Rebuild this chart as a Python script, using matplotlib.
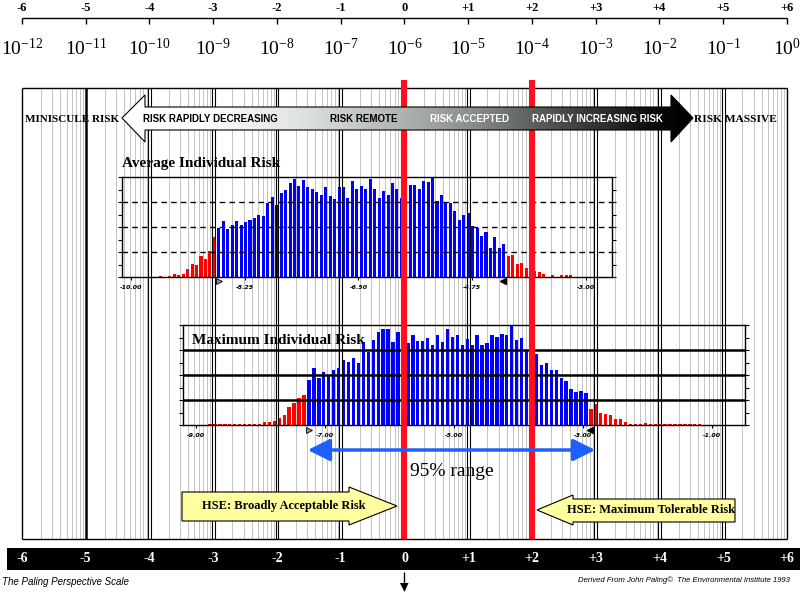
import numpy as np
import matplotlib
matplotlib.use("Agg")
import matplotlib.pyplot as plt
from matplotlib.patches import Polygon, Rectangle, FancyArrowPatch
from matplotlib.colors import LinearSegmentedColormap

W, H = 803, 595
SERIF = "Liberation Serif"
SANS = "Liberation Sans"

# Paling perspective scale: one step = a factor of ten
scale_ticks = [-6, -5, -4, -3, -2, -1, 0, 1, 2, 3, 4, 5, 6]
scale_labels = ["-6", "-5", "-4", "-3", "-2", "-1", "0", "+1", "+2", "+3", "+4", "+5", "+6"]
risk_powers = [-12, -11, -10, -9, -8, -7, -6, -5, -4, -3, -2, -1, 0]
double_lines = [-4, -3, -2, -1, 1, 3, 4, 5]
thick_lines = [-5]
edge_lines = [-6, 6]
hse_lines = [0, 2]

# average individual risk histogram (log10 risk bins)
avg_start, avg_step = -9.539, 0.0685
avg_left = [0.04, 0, 0.04, 0.12, 0.08, 0.12, 0.32, 0.52, 0.48, 0.83, 0.72, 1.03, 1.60]
avg_body = [1.96, 2.24, 1.92, 2.07, 2.24, 2.08, 2.20, 2.27, 2.36, 2.48,
            2.45, 2.96, 3.20, 2.88, 3.36, 3.48, 3.76, 3.92, 3.64, 3.88,
            3.60, 3.52, 3.40, 3.28, 3.60, 3.24, 3.12, 3.60, 3.60, 3.16,
            3.84, 3.52, 3.64, 3.52, 3.92, 3.52, 3.16, 3.44, 3.28, 3.76,
            3.52, 3.16, 3.48, 3.68, 3.68, 3.52, 3.84, 3.80, 3.99, 3.04,
            3.28, 2.96, 2.96, 2.64, 2.28, 2.48, 2.56, 2.04, 1.96, 1.64,
            1.80, 1.16, 1.60, 1.16, 1.32]
avg_right = [0.84, 0.88, 0.52, 0.56, 0.36, 0.24, 0.24, 0.20, 0.12, 0, 0.08, 0, 0.08, 0.08, 0.08]
avg_ticks = [-10.0, -8.25, -6.5, -4.75, -3.0]

# maximum individual risk histogram
max_start, max_step = -8.783, 0.0767
max_left = [0.04, 0.04, 0.04, 0.04, 0.04, 0.04, 0.04, 0.04, 0.04, 0.04,
            0.04, 0.11, 0.12, 0.15, 0.27, 0.39, 0.71, 0.87, 1.07, 1.20]
max_body = [1.81, 2.27, 1.87, 2.11, 1.96, 2.19, 2.27, 2.59, 2.51, 2.67,
            2.47, 3.31, 2.91, 3.39, 3.71, 3.84, 3.84, 3.31, 3.71, 3.23,
            3.27, 3.59, 3.35, 3.35, 3.47, 3.19, 3.59, 3.31, 3.83, 3.51,
            3.59, 3.19, 3.43, 3.19, 3.59, 3.19, 3.27, 3.59, 3.51, 3.63,
            3.59, 3.97, 3.39, 3.47, 2.97, 2.91, 2.83, 2.39, 2.47, 2.19,
            2.19, 1.87, 1.75, 1.43, 1.31, 1.35, 1.27]
max_right = [0.63, 0.83, 0.47, 0.43, 0.39, 0.23, 0.23, 0.11, 0.04, 0.04,
             0.04, 0.07, 0.05, 0.04, 0.04, 0.04, 0.04, 0.04, 0.04, 0.04,
             0.04, 0.04, 0.04]
max_ticks = [-9.0, -7.0, -5.0, -3.0, -1.0]

# pixel position of scale 0 and width of one step
X0, U = 404.5, 63.75


def sx(px):
    return (px - X0) / U


fig = plt.figure(figsize=(W / 100, H / 100), dpi=100)
bg = fig.add_axes([0, 0, 1, 1], zorder=0)
ov = fig.add_axes([0, 0, 1, 1], zorder=3)
ov.patch.set_alpha(0)
for a in (bg, ov):
    a.set_xlim(sx(0), sx(W))
    a.set_ylim(H, 0)
    a.axis("off")

# minor log lines inside each decade
for t in scale_ticks[:-1]:
    for k in range(2, 10):
        bg.vlines(t + np.log10(k), 88, 539, color="#c4c4c4", lw=0.7)

# major lines
dx = 1.3 / U
for t in double_lines:
    ov.vlines([t - dx, t + dx], 88, 539, color="black", lw=0.8, zorder=2)
for t in thick_lines:
    ov.vlines(t, 88, 539, color="black", lw=1.8, zorder=2)
for t in edge_lines:
    ov.vlines(t, 88, 539, color="black", lw=1.0, zorder=2)
ov.hlines([88, 539], -6, 6, color="black", lw=1.0, zorder=2)
ov.vlines(hse_lines, 80, 539, color="#ff1020", lw=4.4, zorder=3)

# top scale
bg.hlines(18, -6, 6, color="black", lw=1.0)
bg.vlines(scale_ticks, 18, 24, color="black", lw=1.0)
for t, lab, p in zip(scale_ticks, scale_labels, risk_powers):
    bg.text(t, 8, lab, ha="center", va="center", fontsize=9,
            fontweight="bold", family=SERIF)
    bg.text(t, 48, "$\\mathregular{10^{%d}}$" % p, ha="center", va="center",
            fontsize=14, family=SERIF)

# big gradient arrow
arrow_pts = [(122, 118), (145, 95), (145, 107), (671, 107), (671, 95),
             (693, 118), (671, 142), (671, 130), (145, 130), (145, 142)]
arrow_pts = [(sx(x), y) for x, y in arrow_pts]
grad = LinearSegmentedColormap.from_list("risk", [
    (0.0, "#ffffff"), (0.14, "#ffffff"), (0.31, "#e0e4e0"), (0.49, "#b0b4b0"),
    (0.61, "#8c908c"), (0.71, "#606460"), (0.84, "#303030"), (0.94, "#080808"),
    (1.0, "#000000")])
outline = Polygon(arrow_pts, closed=True, facecolor="none", edgecolor="black",
                  lw=0.8, zorder=6)
ov.add_patch(outline)
im = ov.imshow(np.linspace(0, 1, 256)[None, :], cmap=grad, aspect="auto",
               extent=(sx(122), sx(693), 142, 95), zorder=5)
im.set_clip_path(outline)

arrow_text = [("RISK RAPIDLY DECREASING", 143, "black"), ("RISK REMOTE", 330, "black"),
              ("RISK ACCEPTED", 430, "white"), ("RAPIDLY INCREASING RISK", 532, "white")]
for s, x, c in arrow_text:
    ov.text(sx(x), 119, s, ha="left", va="center", fontsize=7, fontweight="bold",
            family=SANS, color=c, zorder=7)
ov.text(sx(25), 119, "MINISCULE RISK", ha="left", va="center", fontsize=8,
        fontweight="bold", family=SERIF, zorder=7)
ov.text(sx(694), 119, "RISK MASSIVE", ha="left", va="center", fontsize=8.2,
        fontweight="bold", family=SERIF, zorder=7)


def panel(x1, y1, x2, y2, xlim):
    a = fig.add_axes([x1 / W, 1 - y2 / H, (x2 - x1) / W, (y2 - y1) / H], zorder=1)
    a.patch.set_alpha(0)
    a.set_xlim(xlim)
    a.set_ylim(0, 4)
    a.set_yticks(np.arange(0, 4.01, 0.5))
    a.tick_params(axis="y", which="both", direction="out", length=3, width=0.8,
                  left=True, right=True, labelleft=False)
    a.tick_params(axis="x", direction="out", length=2, width=0.8, pad=4)
    for sp in a.spines.values():
        sp.set_linewidth(1.0)
    return a


def draw_bars(a, start, step, left, body, right):
    heights = left + body + right
    xs = start + step * np.arange(len(heights))
    colors = ["red"] * len(left) + ["blue"] * len(body) + ["red"] * len(right)
    a.bar(xs, heights, width=step * 0.68, color=colors, linewidth=0, zorder=2)
    return xs[len(left)], xs[len(left) + len(body) - 1]


# average individual risk
pa = panel(122, 177, 612, 277, (-10.138, -2.60))
lo, hi = draw_bars(pa, avg_start, avg_step, avg_left, avg_body, avg_right)
pa.hlines([1, 2, 3], *pa.get_xlim(), color="black", lw=1.0, linestyles=(0, (4, 3)), zorder=3)
pa.set_xticks(avg_ticks)
pa.set_xticklabels(["%.2f" % v for v in avg_ticks], fontsize=4.5, style="italic",
                   fontweight="bold")
pa.plot([lo], [-0.17], marker=">", ms=5, mfc="#909090", mec="black", mew=0.6, clip_on=False)
pa.plot([hi - avg_step * 0.2], [-0.17], marker="<", ms=5, color="black", clip_on=False)
ov.text(sx(122), 163, "Average Individual Risk", ha="left", va="center", fontsize=11,
        fontweight="bold", family=SERIF, zorder=7)

# maximum individual risk
pm = panel(183, 325, 745, 425, (-9.2016, -0.488))
lo, hi = draw_bars(pm, max_start, max_step, max_left, max_body, max_right)
pm.hlines([1, 2, 3], *pm.get_xlim(), color="black", lw=1.8, zorder=3)
pm.set_xticks(max_ticks)
pm.set_xticklabels(["%.2f" % v for v in max_ticks], fontsize=4.5, style="italic",
                   fontweight="bold")
pm.plot([lo], [-0.2], marker=">", ms=5, mfc="#909090", mec="black", mew=0.6, clip_on=False)
pm.plot([hi + max_step * 0.9], [-0.2], marker="<", ms=5, color="black", clip_on=False)
ov.text(sx(192), 340, "Maximum Individual Risk", ha="left", va="center", fontsize=11,
        fontweight="bold", family=SERIF, zorder=7)

# 95% range
ov.add_patch(FancyArrowPatch((sx(305), 450), (sx(598), 450),
                             arrowstyle="<|-|>,head_length=0.9,head_width=0.45",
                             mutation_scale=15, color="#1f5fff", lw=2.5, zorder=6))
ov.text(sx(452), 472, "95% range", ha="center", va="center", fontsize=14,
        family=SERIF, zorder=7)

# HSE arrows
hse_a = [(182, 492), (349, 492), (349, 487), (397, 506), (349, 525), (349, 521), (182, 521)]
hse_b = [(735, 499), (573, 499), (573, 495), (537, 510), (573, 525), (573, 522), (735, 522)]
for pts in (hse_a, hse_b):
    ov.add_patch(Polygon([(sx(x), y) for x, y in pts], closed=True, facecolor="#ffffa0",
                         edgecolor="black", lw=0.8, zorder=6))
ov.text(sx(284), 506, "HSE: Broadly Acceptable Risk", ha="center", va="center",
        fontsize=9, fontweight="bold", family=SERIF, zorder=7)
ov.text(sx(651), 510, "HSE: Maximum Tolerable Risk", ha="center", va="center",
        fontsize=9, fontweight="bold", family=SERIF, zorder=7)

# bottom scale bar
ov.add_patch(Rectangle((sx(7), 548), sx(800) - sx(7), 22, facecolor="black",
                       edgecolor="none", zorder=6))
for t, lab in zip(scale_ticks, scale_labels):
    ov.text(t, 559, lab, ha="center", va="center", fontsize=10, fontweight="bold",
            family=SERIF, color="white", zorder=7)
ov.text(sx(2), 582, "The Paling Perspective Scale", ha="left", va="center",
        fontsize=7, style="italic", family=SANS)
ov.text(sx(790), 580, "Derived From John Paling\u00a9  The Environmental Institute 1993",
        ha="right", va="center", fontsize=5.6, style="italic", family=SANS)
ov.vlines(0, 572, 584, color="black", lw=1.0)
ov.add_patch(Polygon([(sx(400), 583), (sx(408.5), 583), (0, 592)], closed=True,
                     facecolor="black", edgecolor="none"))

for a in (bg, ov):
    a.set_xlim(sx(0), sx(W))
    a.set_ylim(H, 0)

fig.savefig("out.png", dpi=100)
